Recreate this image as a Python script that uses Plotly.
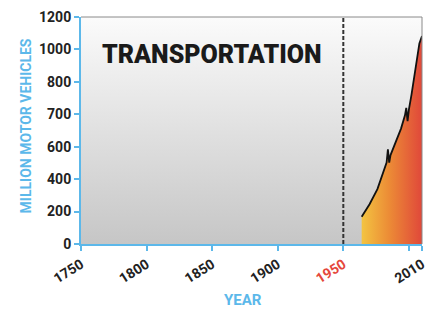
import base64
import plotly.graph_objects as go

# ---- data ----
years = [1964, 1970, 1976, 1981, 1983, 1984, 1985, 1986, 1990, 1994, 1997, 1998, 1999, 2000, 2002, 2004, 2006, 2008, 2010]
vehicles = [144, 210, 290, 390, 430, 500, 430, 470, 540, 610, 680, 720, 650, 710, 790, 880, 980, 1060, 1100]

x_tick_vals = [1750, 1800, 1850, 1900, 1950, 2000, 2010]
x_tick_text = ["1750", "1800", "1850", "1900", "<span style='color:#e5473b'>1950</span>", "", "2010"]
y_tick_labels = ["0", "200", "400", "600", "700", "800", "1000", "1200"]
y_max = 1200
marker_year = 1950

FONT = "Roboto, Liberation Sans, sans-serif"
BLUE = "#5cb8ea"

# background gradient as inline SVG
svg = ("<svg xmlns='http://www.w3.org/2000/svg' width='10' height='100' preserveAspectRatio='none'>"
       "<defs><linearGradient id='g' x1='0' y1='0' x2='0' y2='1'>"
       "<stop offset='0' stop-color='#fbfbfb'/><stop offset='1' stop-color='#c6c6c6'/>"
       "</linearGradient></defs><rect width='10' height='100' fill='url(#g)'/></svg>")
svg_uri = "data:image/svg+xml;base64," + base64.b64encode(svg.encode()).decode()

n = len(y_tick_labels)
y_tick_vals = [i * y_max / (n - 1) for i in range(n)]

fig = go.Figure()
fig.add_trace(go.Scatter(
    x=years, y=vehicles, mode="lines",
    line=dict(color="#111111", width=1.8),
    fill="tozeroy",
    fillgradient=dict(type="horizontal",
                      colorscale=[[0, "#f3c441"], [0.45, "#ec8c36"], [1, "#e0483a"]]),
    hoverinfo="skip", showlegend=False,
))

fig.add_shape(type="line", xref="x", yref="paper", x0=marker_year, x1=marker_year, y0=0, y1=1,
              line=dict(color="#333333", width=2, dash="4px,2px"), layer="above")

fig.add_annotation(text="TRANSPORTATION", xref="paper", yref="paper", x=0.384, y=0.833,
                   xanchor="center", yanchor="middle", showarrow=False,
                   font=dict(family=FONT, size=25, color="#1a1a1a", weight=900))
# axis titles
fig.add_annotation(text="MILLION MOTOR VEHICLES", xref="paper", yref="paper", x=-0.16, y=0.52,
                   xanchor="center", yanchor="middle", showarrow=False, textangle=-90,
                   font=dict(family=FONT, size=14, color=BLUE, weight="bold"))
fig.add_annotation(text="YEAR", xref="paper", yref="paper", x=0.475, y=-0.245,
                   xanchor="center", yanchor="middle", showarrow=False,
                   font=dict(family=FONT, size=15, color=BLUE, weight="bold"))

fig.update_layout(
    width=427, height=317,
    margin=dict(l=81, r=5, t=17, b=73),
    paper_bgcolor="white",
    plot_bgcolor="rgba(0,0,0,0)",
    images=[dict(source=svg_uri, xref="paper", yref="paper", x=0, y=1, sizex=1, sizey=1,
                 sizing="stretch", layer="below", xanchor="left", yanchor="top")],
    xaxis=dict(range=[1750, 2010], tickvals=x_tick_vals, ticktext=x_tick_text, tickangle=-32,
               ticks="outside", ticklen=5, tickcolor=BLUE, tickwidth=2, automargin=False,
               ticklabeloverflow="allow",
               showline=True, linecolor=BLUE, linewidth=2, mirror=False, showgrid=False, zeroline=False,
               tickfont=dict(family=FONT, size=14, color="#222222", weight="bold")),
    yaxis=dict(range=[0, y_max], tickvals=y_tick_vals, ticktext=y_tick_labels,
               ticks="outside", ticklen=5, tickcolor=BLUE, tickwidth=2, automargin=False,
               showline=True, linecolor=BLUE, linewidth=2, showgrid=False, zeroline=False,
               tickfont=dict(family=FONT, size=14, color="#222222", weight="bold")),
)
# top/right border of plot
fig.add_shape(type="line", xref="paper", yref="paper", x0=0, x1=1, y0=1, y1=1, line=dict(color="#8a8a8a", width=1))
fig.add_shape(type="line", xref="paper", yref="paper", x0=1, x1=1, y0=0, y1=1, line=dict(color="#8a8a8a", width=1))

fig.write_html("out.html", config={"displayModeBar": False},
               post_script="document.body.style.margin='0';")
